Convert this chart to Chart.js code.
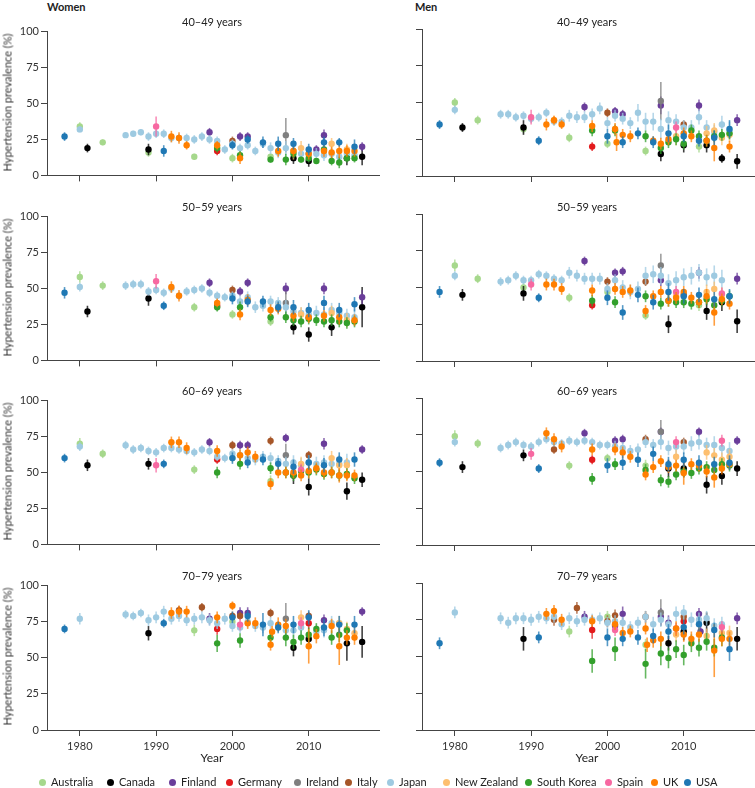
<!DOCTYPE html>
<html>
<head>
<meta charset="utf-8">
<script src="https://cdn.jsdelivr.net/npm/chart.js@4.4.1/dist/chart.umd.min.js"></script>
<style>
  body { margin: 0; width: 755px; height: 788px; background: #fff; position: relative; overflow: hidden;
         font-family: Lato, "Liberation Sans", sans-serif; color: #222; }
  canvas { position: absolute; }
  .t { position: absolute; font-size: 11px; white-space: nowrap; }
  .sex { font-weight: bold; top: 0px; }
  .age { width: 330px; text-align: center; }
  .ytitle { transform: rotate(-90deg); transform-origin: center; width: 160px; text-align: center; color: #333; }
  .year { width: 330px; text-align: center; top: 750px; font-size: 12px; }
  .leg { position: absolute; top: 775px; font-size: 11px; white-space: nowrap; line-height: 14px; }
  .leg span.dot { display: inline-block; width: 7px; height: 7px; border-radius: 50%; margin-right: 5px; vertical-align: 0px; }
</style>
</head>
<body>
<div class="t sex" style="left:47px">Women</div>
<div class="t sex" style="left:415px">Men</div>
<script>
const countries = ['Australia', 'Canada', 'Finland', 'Germany', 'Ireland', 'Italy', 'Japan', 'New Zealand', 'South Korea', 'Spain', 'UK', 'USA'];
const colors = ['#a6d88c', '#000000', '#6a3d9a', '#e31a1c', '#7f7f7f', '#a65628', '#9ecae1', '#fdbf6f', '#33a02c', '#f768a1', '#ff7f00', '#1f78b4'];
const ageGroups = ['40–49 years', '50–59 years', '60–69 years', '70–79 years'];
const xTicks = [1980, 1990, 2000, 2010];
const yTicks = [0, 25, 50, 75, 100];

// [year, prevalence %, half width of 95% interval]
const women40 = {
  Australia: [[1980, 34, 3], [1983, 23, 2], [1989, 16, 3], [1995, 13, 2], [2000, 12, 3], [2005, 13, 2]],
  Canada: [[1981, 19, 3], [1989, 18, 4], [2008, 12, 4], [2010, 10, 4], [2015, 12, 5], [2017, 13, 6]],
  Finland: [[1997, 30, 3], [2001, 27, 3], [2002, 27, 3], [2011, 18, 3], [2012, 28, 4], [2017, 20, 3]],
  Germany: [[1998, 17, 3]],
  Ireland: [[2007, 28, 12]],
  Italy: [[2000, 24, 3], [2010, 15, 3]],
  Japan: [[1980, 32, 2], [1986, 28, 2], [1987, 29, 2], [1988, 30, 2], [1989, 27, 3], [1990, 29, 3], [1991, 29, 3], [1992, 26, 3], [1993, 26, 3], [1994, 26, 3], [1995, 25, 3], [1996, 27, 3], [1997, 25, 3], [1998, 24, 3], [1999, 18, 3], [2000, 22, 3], [2001, 19, 3], [2002, 21, 3], [2003, 17, 3], [2004, 22, 3], [2005, 19, 4], [2006, 16, 4], [2007, 19, 5], [2008, 17, 4], [2009, 15, 4], [2010, 15, 4], [2011, 15, 4], [2012, 14, 4], [2013, 15, 4], [2014, 13, 4], [2015, 15, 4], [2016, 14, 4]],
  'New Zealand': [[2008, 17, 6], [2009, 19, 5], [2013, 22, 4], [2015, 18, 4]],
  'South Korea': [[1998, 19, 3], [2001, 14, 3], [2005, 11, 2], [2007, 11, 4], [2008, 15, 3], [2009, 11, 2], [2010, 12, 3], [2011, 10, 2], [2012, 18, 3], [2013, 10, 3], [2014, 9, 4], [2015, 12, 3], [2016, 12, 3]],
  Spain: [[1990, 34, 7]],
  UK: [[1992, 27, 4], [1993, 26, 4], [1994, 21, 3], [1998, 21, 3], [2001, 12, 4], [2006, 17, 4], [2008, 17, 4], [2010, 15, 4], [2012, 17, 4], [2013, 16, 4], [2014, 17, 5], [2015, 17, 4], [2016, 17, 4]],
  USA: [[1978, 27, 3], [1991, 17, 4], [2000, 21, 3], [2002, 25, 3], [2004, 23, 4], [2006, 22, 5], [2008, 22, 4], [2010, 18, 4], [2012, 23, 4], [2014, 23, 3], [2016, 20, 5]]
};
const men40 = {
  Australia: [[1980, 50, 3], [1983, 38, 3], [1989, 32, 3], [1995, 26, 3], [2000, 22, 3], [2005, 17, 3], [2012, 20, 4]],
  Canada: [[1981, 33, 3], [1989, 33, 5], [2007, 15, 5], [2010, 21, 5], [2013, 21, 5], [2015, 12, 3], [2017, 10, 5]],
  Finland: [[1997, 47, 3], [2001, 44, 3], [2002, 42, 3], [2007, 48, 6], [2012, 48, 4], [2017, 38, 4]],
  Germany: [[1998, 20, 3]],
  Ireland: [[2007, 51, 13]],
  Italy: [[2000, 43, 3], [2010, 35, 3]],
  Japan: [[1980, 45, 3], [1986, 42, 3], [1987, 42, 3], [1988, 40, 3], [1989, 41, 3], [1990, 39, 3], [1991, 40, 3], [1992, 43, 3], [1993, 37, 3], [1994, 37, 3], [1995, 41, 4], [1996, 40, 4], [1997, 40, 4], [1998, 42, 4], [1999, 46, 4], [2000, 36, 4], [2001, 41, 4], [2002, 39, 4], [2003, 36, 4], [2004, 43, 6], [2005, 37, 6], [2006, 37, 6], [2007, 32, 7], [2008, 38, 6], [2009, 37, 5], [2010, 33, 5], [2011, 33, 5], [2012, 40, 5], [2013, 33, 5], [2014, 30, 5], [2015, 35, 6], [2016, 31, 6]],
  'New Zealand': [[1993, 38, 3], [2009, 27, 6], [2013, 29, 5], [2014, 31, 5], [2015, 26, 5], [2016, 28, 5]],
  'South Korea': [[1998, 31, 4], [2001, 31, 4], [2005, 27, 4], [2007, 19, 4], [2008, 23, 4], [2009, 25, 4], [2010, 22, 4], [2011, 31, 4], [2012, 27, 4], [2013, 24, 4], [2014, 27, 4], [2015, 28, 4], [2016, 29, 4]],
  Spain: [[1990, 40, 5], [2009, 33, 4]],
  UK: [[1992, 35, 4], [1993, 38, 3], [1994, 35, 3], [1998, 34, 4], [2001, 32, 4], [2001.2, 23, 6], [2002, 28, 4], [2003, 27, 4], [2006, 24, 3], [2007, 22, 4], [2008, 25, 4], [2010, 29, 4], [2011, 27, 4], [2013, 24, 4], [2014, 19, 9], [2016, 20, 4]],
  USA: [[1978, 35, 3], [1991, 24, 3], [2000, 27, 5], [2002, 23, 4], [2004, 29, 4], [2006, 23, 4], [2008, 29, 6], [2010, 27, 4], [2012, 24, 4], [2014, 26, 5], [2016, 32, 6]]
};
const women50 = {
  Australia: [[1980, 58, 4], [1983, 52, 3], [1995, 37, 3], [2000, 32, 3], [2005, 27, 3]],
  Canada: [[1981, 34, 4], [1989, 43, 5], [2008, 23, 5], [2010, 18, 5], [2013, 23, 6], [2017, 37, 14]],
  Finland: [[1997, 54, 3], [2001, 48, 3], [2002, 54, 3], [2007, 50, 4], [2012, 50, 4], [2017, 44, 5]],
  Germany: [[1998, 38, 3]],
  Ireland: [[2007, 40, 8]],
  Italy: [[2000, 49, 3], [2010, 30, 3]],
  Japan: [[1980, 51, 3], [1986, 52, 3], [1987, 53, 3], [1988, 53, 3], [1989, 48, 3], [1990, 49, 3], [1991, 47, 3], [1992, 50, 3], [1993, 45, 3], [1994, 48, 3], [1995, 49, 3], [1996, 50, 3], [1997, 47, 3], [1998, 45, 3], [1999, 44, 3], [2000, 45, 3], [2001, 41, 4], [2002, 44, 4], [2003, 37, 4], [2004, 38, 4], [2005, 41, 4], [2006, 40, 4], [2007, 37, 5], [2008, 34, 4], [2009, 33, 4], [2010, 32, 4], [2011, 33, 5], [2012, 32, 5], [2013, 35, 5], [2014, 33, 5], [2015, 31, 5], [2016, 30, 6]],
  'New Zealand': [[2009, 32, 5], [2013, 33, 5], [2015, 28, 5]],
  'South Korea': [[1998, 37, 3], [2001, 37, 4], [2005, 30, 3], [2007, 30, 4], [2008, 28, 4], [2009, 27, 4], [2010, 29, 4], [2011, 28, 4], [2012, 27, 4], [2013, 28, 4], [2014, 27, 4], [2015, 26, 4], [2016, 27, 4]],
  Spain: [[1990, 55, 5]],
  UK: [[1992, 51, 4], [1993, 45, 4], [1998, 40, 3], [2001, 32, 4], [2002, 42, 4], [2005, 35, 4], [2006, 36, 4], [2008, 31, 4], [2010, 30, 4], [2012, 31, 4], [2014, 30, 5], [2016, 28, 4]],
  USA: [[1978, 47, 4], [1991, 38, 3], [2000, 43, 4], [2002, 41, 4], [2004, 41, 4], [2006, 37, 4], [2008, 37, 5], [2010, 35, 5], [2012, 40, 5], [2014, 35, 5], [2016, 39, 5]]
};
const men50 = {
  Australia: [[1980, 65, 4], [1983, 56, 3], [1989, 50, 3], [1995, 43, 3], [2000, 47, 3], [2005, 31, 3], [2012, 38, 4]],
  Canada: [[1981, 45, 4], [1989, 46, 5], [2008, 25, 6], [2013, 34, 6], [2015, 40, 6], [2017, 27, 8]],
  Finland: [[1997, 68, 3], [2001, 60, 3], [2002, 61, 3], [2007, 55, 4], [2012, 60, 4], [2017, 56, 4]],
  Germany: [[1998, 38, 3]],
  Ireland: [[2007, 65, 8]],
  Italy: [[2000, 54, 3], [2005, 54, 3], [2010, 45, 3]],
  Japan: [[1980, 58, 3], [1986, 54, 3], [1987, 55, 3], [1988, 58, 3], [1989, 55, 3], [1990, 55, 3], [1991, 59, 3], [1992, 58, 3], [1993, 56, 3], [1994, 55, 3], [1995, 60, 4], [1996, 58, 4], [1997, 56, 4], [1998, 56, 4], [1999, 56, 4], [2000, 49, 4], [2001, 55, 4], [2002, 50, 5], [2003, 47, 5], [2004, 49, 5], [2005, 58, 6], [2006, 59, 6], [2007, 58, 6], [2008, 53, 6], [2009, 55, 6], [2010, 57, 6], [2011, 58, 6], [2012, 60, 6], [2013, 57, 6], [2014, 58, 7], [2015, 55, 7]],
  'New Zealand': [[2009, 44, 5], [2013, 47, 5], [2014, 49, 5], [2015, 45, 5]],
  'South Korea': [[1998, 41, 4], [2001, 40, 4], [2005, 44, 4], [2007, 39, 4], [2008, 41, 4], [2009, 40, 4], [2010, 40, 4], [2011, 39, 4], [2012, 40, 4], [2013, 42, 4], [2014, 38, 4], [2015, 41, 4], [2016, 44, 4]],
  Spain: [[1990, 52, 4], [2009, 47, 4], [2015, 46, 4]],
  UK: [[1992, 52, 4], [1993, 52, 4], [1994, 49, 4], [1998, 48, 4], [2001, 49, 4], [2002, 47, 4], [2003, 48, 4], [2005, 34, 4], [2006, 44, 4], [2007, 47, 4], [2008, 41, 4], [2009, 43, 4], [2010, 47, 4], [2011, 43, 4], [2012, 40, 4], [2013, 44, 5], [2014, 33, 9], [2015, 42, 4], [2016, 39, 4]],
  USA: [[1978, 47, 4], [1991, 43, 3], [2000, 43, 5], [2002, 33, 5], [2004, 45, 5], [2006, 40, 5], [2008, 47, 6], [2010, 44, 5], [2012, 45, 5], [2014, 42, 5], [2016, 44, 5]]
};
const women60 = {
  Australia: [[1980, 70, 4], [1983, 63, 3], [1995, 52, 3], [2000, 60, 3], [2005, 44, 4]],
  Canada: [[1981, 55, 4], [1989, 56, 4], [2008, 48, 6], [2010, 40, 6], [2015, 37, 6], [2017, 45, 5]],
  Finland: [[1997, 71, 3], [2001, 69, 3], [2002, 69, 3], [2007, 74, 3], [2012, 70, 4], [2017, 66, 3]],
  Germany: [[1998, 59, 3]],
  Ireland: [[2007, 62, 8]],
  Italy: [[2000, 69, 3], [2005, 72, 3], [2010, 62, 3]],
  Japan: [[1980, 68, 3], [1986, 69, 3], [1987, 66, 3], [1988, 67, 3], [1989, 65, 3], [1990, 64, 3], [1991, 67, 3], [1992, 67, 3], [1993, 66, 3], [1994, 65, 3], [1995, 64, 3], [1996, 66, 3], [1997, 65, 3], [1998, 61, 3], [1999, 60, 3], [2000, 63, 3], [2001, 62, 4], [2002, 60, 4], [2003, 59, 4], [2004, 61, 4], [2005, 60, 4], [2006, 58, 4], [2007, 56, 5], [2008, 57, 5], [2009, 55, 5], [2010, 57, 5], [2011, 56, 5], [2012, 57, 5], [2013, 56, 5], [2014, 56, 6], [2015, 57, 6]],
  'New Zealand': [[2009, 56, 5], [2013, 60, 5], [2014, 55, 5], [2015, 55, 5]],
  'South Korea': [[1998, 50, 4], [2001, 56, 4], [2005, 53, 4], [2007, 50, 4], [2008, 48, 4], [2009, 51, 4], [2010, 50, 4], [2011, 52, 4], [2012, 49, 4], [2013, 50, 4], [2014, 48, 4], [2015, 49, 4], [2016, 46, 4]],
  Spain: [[1990, 55, 5], [2009, 52, 4]],
  UK: [[1992, 71, 4], [1993, 71, 4], [1994, 67, 4], [1998, 65, 4], [2001, 62, 4], [2002, 64, 4], [2003, 61, 4], [2005, 42, 4], [2006, 50, 4], [2007, 50, 4], [2008, 50, 4], [2009, 48, 4], [2010, 51, 5], [2011, 53, 4], [2012, 50, 4], [2013, 50, 4], [2014, 48, 5], [2015, 48, 4], [2016, 48, 4]],
  USA: [[1978, 60, 3], [1991, 56, 3], [2000, 60, 4], [2002, 57, 4], [2004, 59, 4], [2006, 56, 4], [2008, 54, 5], [2010, 57, 5], [2012, 55, 5], [2014, 59, 5], [2016, 59, 5]]
};
const men60 = {
  Australia: [[1980, 74, 4], [1983, 69, 3], [1995, 54, 3], [2000, 59, 3], [2005, 54, 4]],
  Canada: [[1981, 53, 4], [1989, 61, 4], [2008, 52, 6], [2010, 52, 6], [2013, 41, 6], [2015, 47, 6], [2017, 52, 5]],
  Finland: [[1997, 76, 3], [2001, 71, 3], [2002, 72, 3], [2007, 77, 3], [2012, 77, 3], [2017, 71, 3]],
  Germany: [[1998, 58, 3]],
  Ireland: [[2007, 77, 8]],
  Italy: [[1993, 65, 3], [2005, 72, 3], [2010, 70, 3]],
  Japan: [[1980, 70, 3], [1986, 66, 3], [1987, 68, 3], [1988, 70, 3], [1989, 68, 3], [1990, 67, 3], [1991, 70, 3], [1992, 72, 3], [1993, 70, 3], [1994, 69, 3], [1995, 71, 3], [1996, 70, 3], [1997, 71, 3], [1998, 70, 3], [1999, 68, 3], [2000, 68, 3], [2001, 67, 4], [2002, 66, 4], [2003, 64, 4], [2004, 65, 4], [2005, 70, 4], [2006, 68, 4], [2007, 70, 5], [2008, 66, 5], [2009, 67, 5], [2010, 67, 5], [2011, 69, 5], [2012, 70, 5], [2013, 68, 5], [2014, 68, 6], [2015, 66, 6], [2016, 64, 6]],
  'New Zealand': [[2009, 60, 5], [2013, 63, 5], [2014, 61, 5], [2015, 58, 5], [2016, 60, 5]],
  'South Korea': [[1998, 45, 4], [2001, 55, 4], [2005, 51, 4], [2007, 44, 4], [2008, 43, 4], [2009, 48, 4], [2010, 50, 4], [2011, 49, 4], [2012, 52, 4], [2013, 53, 4], [2014, 51, 4], [2015, 55, 4], [2016, 54, 4]],
  Spain: [[1990, 62, 4], [2009, 70, 4], [2015, 71, 4]],
  UK: [[1992, 76, 4], [1993, 72, 4], [1994, 67, 4], [1998, 65, 4], [2001, 65, 4], [2002, 63, 4], [2003, 60, 4], [2005, 48, 4], [2006, 53, 4], [2007, 57, 4], [2008, 53, 4], [2009, 54, 4], [2010, 49, 8], [2011, 55, 4], [2012, 54, 4], [2013, 50, 4], [2014, 46, 7], [2015, 52, 4], [2016, 55, 4]],
  USA: [[1978, 56, 3], [1991, 52, 3], [2000, 54, 5], [2002, 56, 5], [2004, 58, 5], [2006, 62, 5], [2008, 55, 5], [2010, 58, 5], [2012, 56, 5], [2014, 55, 5], [2016, 56, 5]]
};
const women70 = {
  Australia: [[1995, 69, 4], [2000, 75, 4]],
  Canada: [[1989, 67, 5], [2008, 57, 6], [2010, 63, 5], [2015, 60, 12], [2017, 61, 11]],
  Finland: [[1997, 77, 4], [2001, 81, 4], [2002, 81, 4], [2012, 76, 4], [2017, 82, 3]],
  Germany: [[1998, 70, 4], [2010, 74, 4]],
  Ireland: [[2007, 77, 11]],
  Italy: [[1993, 83, 3], [1996, 85, 3], [2000, 79, 3], [2001, 79, 3], [2005, 81, 3], [2010, 79, 3]],
  Japan: [[1980, 77, 4], [1986, 80, 3], [1987, 79, 3], [1988, 81, 3], [1989, 76, 4], [1990, 78, 4], [1991, 82, 4], [1992, 77, 4], [1993, 79, 4], [1994, 76, 4], [1995, 77, 4], [1996, 78, 4], [1997, 76, 4], [1998, 74, 4], [1999, 77, 4], [2000, 72, 4], [2001, 71, 4], [2002, 75, 4], [2003, 72, 4], [2004, 71, 4], [2005, 74, 4], [2007, 69, 5], [2008, 69, 5], [2009, 71, 5], [2011, 68, 5], [2012, 69, 5], [2013, 74, 5], [2014, 74, 5]],
  'New Zealand': [[2009, 78, 5], [2014, 74, 5], [2015, 70, 5], [2016, 67, 5]],
  'South Korea': [[1998, 60, 6], [2001, 62, 5], [2005, 64, 5], [2007, 64, 6], [2008, 61, 5], [2009, 64, 5], [2010, 66, 5], [2011, 70, 4], [2013, 64, 5], [2014, 66, 5], [2015, 69, 5]],
  Spain: [[2001, 73, 4], [2009, 74, 4]],
  UK: [[1992, 81, 4], [1993, 82, 4], [1994, 82, 4], [1998, 78, 4], [2000, 86, 3], [2002, 74, 4], [2003, 74, 4], [2005, 59, 4], [2005.2, 68, 4], [2006, 73, 5], [2007, 72, 5], [2010, 58, 12], [2011, 65, 5], [2013, 72, 5], [2014, 58, 13], [2015, 64, 5], [2016, 64, 5]],
  USA: [[1978, 70, 3], [1991, 74, 3], [2000, 78, 4], [2002, 79, 4], [2004, 73, 8], [2006, 71, 4], [2008, 73, 6], [2010, 78, 5], [2012, 71, 6], [2014, 73, 6], [2016, 73, 6]]
};
const men70 = {
  Australia: [[1995, 67, 4], [2000, 77, 4], [2005, 58, 4]],
  Canada: [[1989, 62, 8], [2008, 59, 5], [2010, 67, 6], [2013, 73, 7], [2017, 62, 8]],
  Finland: [[1997, 77, 4], [2001, 71, 4], [2002, 79, 5], [2007, 77, 6], [2008, 73, 5], [2012, 79, 4], [2012.2, 67, 4], [2017, 76, 4]],
  Germany: [[1998, 68, 6], [2010, 74, 4]],
  Ireland: [[2007, 80, 9]],
  Italy: [[1993, 75, 4], [1996, 83, 4], [2000, 74, 4], [2001, 78, 4], [2005, 77, 4], [2010, 77, 4]],
  Japan: [[1980, 80, 4], [1986, 76, 4], [1987, 73, 4], [1988, 76, 4], [1989, 76, 4], [1990, 75, 4], [1991, 77, 4], [1992, 76, 4], [1993, 77, 4], [1994, 72, 4], [1995, 76, 4], [1996, 74, 4], [1997, 75, 4], [1998, 75, 4], [1999, 76, 4], [2000, 73, 4], [2001, 74, 4], [2002, 73, 4], [2003, 70, 4], [2004, 73, 4], [2005, 77, 4], [2006, 72, 5], [2007, 75, 5], [2008, 72, 5], [2009, 79, 5], [2010, 80, 5], [2011, 75, 5], [2012, 75, 5], [2013, 76, 5], [2014, 71, 5], [2015, 72, 5]],
  'New Zealand': [[2009, 65, 5], [2013, 64, 5], [2015, 66, 5], [2016, 66, 5]],
  'South Korea': [[1998, 47, 8], [2001, 55, 8], [2005, 45, 10], [2007, 52, 8], [2008, 49, 7], [2009, 55, 6], [2010, 51, 7], [2011, 59, 6], [2012, 56, 6], [2013, 60, 6], [2014, 56, 6], [2015, 63, 6]],
  Spain: [[2001, 68, 4], [2009, 69, 4], [2015, 70, 4]],
  UK: [[1992, 79, 4], [1993, 81, 4], [1994, 75, 4], [1998, 74, 4], [2001, 72, 4], [2002, 66, 4], [2003, 67, 4], [2005, 69, 4], [2005.2, 58, 5], [2006, 61, 5], [2007, 62, 5], [2009, 69, 5], [2010, 65, 5], [2011, 62, 5], [2012, 65, 5], [2014, 54, 18], [2015, 62, 5], [2016, 62, 5]],
  USA: [[1978, 59, 4], [1991, 63, 4], [2000, 63, 6], [2002, 62, 5], [2004, 63, 5], [2006, 64, 5], [2008, 67, 5], [2010, 70, 5], [2012, 72, 5], [2014, 68, 5], [2016, 55, 8]]
};

const panels = [
  [women40, men40], [women50, men50], [women60, men60], [women70, men70]
];
const plotTops = [29, 214, 398, 583];
const plotH = 147;
const legendX = [43, 111, 173, 230, 298, 349, 391, 447, 529, 609, 655, 688];
const FONT = 'Lato, "Liberation Sans", sans-serif';

const errorBars = {
  id: 'errorBars',
  beforeDatasetDraw(chart, args) {
    const ds = chart.data.datasets[args.index];
    const xs = chart.scales.x, ys = chart.scales.y, ctx = chart.ctx;
    ctx.save();
    ctx.strokeStyle = ds.borderColor;
    ctx.globalAlpha = 0.75;
    ctx.lineWidth = 1.6;
    ds.data.forEach(p => {
      const px = xs.getPixelForValue(p.x);
      ctx.beginPath();
      ctx.moveTo(px, ys.getPixelForValue(p.y - p.e));
      ctx.lineTo(px, ys.getPixelForValue(p.y + p.e));
      ctx.stroke();
    });
    ctx.restore();
  }
};

function addText(cls, text, left, top) {
  const d = document.createElement('div');
  d.className = 't ' + cls;
  d.textContent = text;
  d.style.left = left + 'px';
  d.style.top = top + 'px';
  document.body.appendChild(d);
}

panels.forEach((row, r) => {
  row.forEach((data, c) => {
    const bottom = r === 3;
    const cv = document.createElement('canvas');
    const left = c === 0 ? 0 : 375;
    const w = 380, h = 6 + plotH + (bottom ? 24 : 8);
    cv.width = w; cv.height = h;
    cv.style.left = left + 'px';
    cv.style.top = (plotTops[r] - 6) + 'px';
    cv.style.width = w + 'px'; cv.style.height = h + 'px';
    document.body.appendChild(cv);

    const datasets = countries.map((name, i) => ({
      label: name,
      data: (data[name] || []).map(d => ({ x: d[0], y: d[1], e: d[2] })),
      backgroundColor: colors[i],
      borderColor: colors[i],
      pointRadius: 3.2,
      pointBorderWidth: 0,
      pointHoverRadius: 3.2,
      order: countries.length - i
    }));

    new Chart(cv, {
      type: 'scatter',
      data: { datasets },
      options: {
        responsive: false,
        animation: false,
        events: [],
        layout: { autoPadding: false, padding: { top: 6, left: 0, right: 0, bottom: 0 } },
        plugins: { legend: { display: false }, tooltip: { enabled: false } },
        scales: {
          x: {
            type: 'linear', min: 1975.7, max: 2019.34,
            afterBuildTicks: s => { s.ticks = xTicks.map(v => ({ value: v })); },
            afterFit: s => { s.height = bottom ? 24 : 8; },
            grid: { drawOnChartArea: false, drawTicks: true, tickLength: 6, color: '#444' },
            border: { color: '#444', width: 1 },
            ticks: { display: bottom, color: '#333', padding: 4, maxRotation: 0, font: { family: FONT, size: 11 },
                     callback: v => String(v) }
          },
          y: {
            min: 0, max: 100,
            afterBuildTicks: s => { s.ticks = yTicks.map(v => ({ value: v })); },
            afterFit: s => { s.width = 47; },
            grid: { drawOnChartArea: false, drawTicks: true, tickLength: 6, color: '#444' },
            border: { color: '#444', width: 1 },
            ticks: { display: c === 0, color: '#333', padding: 2, font: { family: FONT, size: 11 } }
          }
        }
      },
      plugins: [errorBars]
    });

    addText('age', ageGroups[r], left + 47, plotTops[r] - 14);
    if (c === 0) addText('ytitle', 'Hypertension prevalence (%)', -73, plotTops[r] + plotH / 2 - 7);
    if (bottom) addText('year', 'Year', left + 47, 750);
  });
});

countries.forEach((name, i) => {
  const item = document.createElement('div');
  item.className = 'leg';
  item.style.left = (legendX[i] - 4) + 'px';
  item.innerHTML = '<span class="dot" style="background:' + colors[i] + '"></span>' + name;
  document.body.appendChild(item);
});
</script>
</body>
</html>
